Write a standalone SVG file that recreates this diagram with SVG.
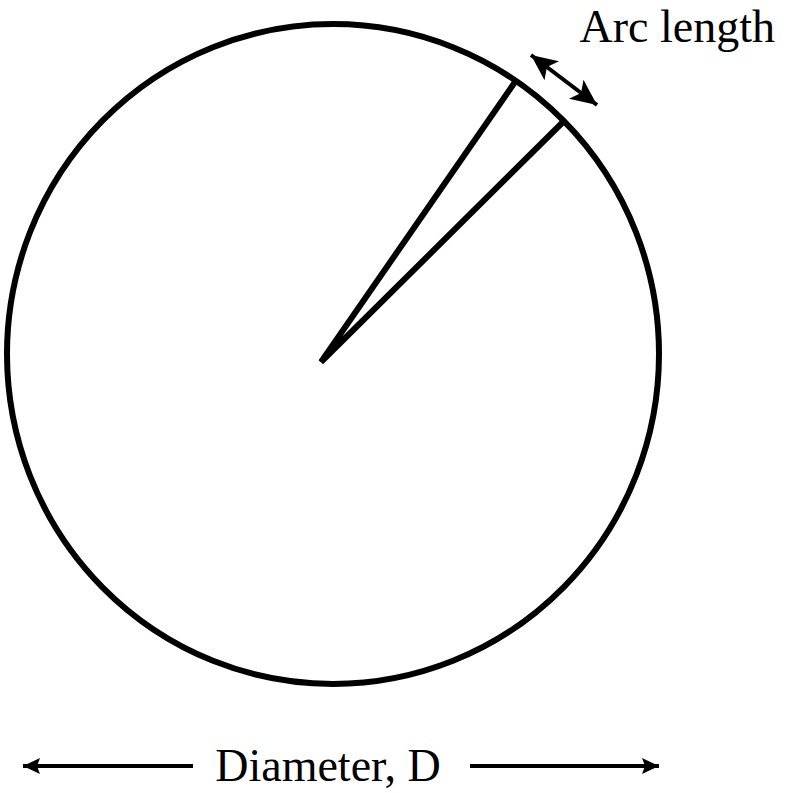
<svg xmlns="http://www.w3.org/2000/svg" width="788" height="793" viewBox="0 0 788 793">
  <defs>
    <style>
      .shape { fill: none; stroke: #000; stroke-width: 6; }
      .conn { fill: none; stroke: #000; stroke-width: 4; }
      .label { font-family: "Liberation Serif", "Times New Roman", serif; font-size: 46px; fill: #000; }
    </style>
    <marker id="arrowD" markerUnits="userSpaceOnUse" markerWidth="18" markerHeight="18" viewBox="0 0 18 18" refX="17" refY="9" orient="auto-start-reverse">
      <path d="M0,1 L17,9 L0,17 L3,9 z" fill="#000"/>
    </marker>
    <marker id="arrowA" markerUnits="userSpaceOnUse" markerWidth="28" markerHeight="26" viewBox="0 0 28 26" refX="26" refY="13" orient="auto-start-reverse">
      <path d="M0,1 L26,13 L0,25 L6,13 z" fill="#000"/>
    </marker>
  </defs>
  <rect width="788" height="793" fill="#fff"/>
  <g id="circle">
    <ellipse class="shape" cx="333" cy="354" rx="326" ry="330"/>
  </g>
  <g id="radii">
    <polyline class="shape" points="515,82 321,362 563,122" stroke-linejoin="miter"/>
  </g>
  <g id="connectors">
    <line class="conn" stroke-width="5" x1="531" y1="55" x2="597" y2="105" marker-start="url(#arrowA)" marker-end="url(#arrowA)"/>
    <line class="conn" stroke-width="3" x1="193" y1="766" x2="23" y2="766" marker-end="url(#arrowD)"/>
    <line class="conn" stroke-width="3" x1="470" y1="766" x2="659" y2="766" marker-end="url(#arrowD)"/>
  </g>
  <g id="arc-label">
    <text class="label" x="775" y="42" text-anchor="end">Arc length</text>
  </g>
  <g id="diameter-label">
    <text class="label" x="328" y="781" text-anchor="middle">Diameter, D</text>
  </g>
</svg>
